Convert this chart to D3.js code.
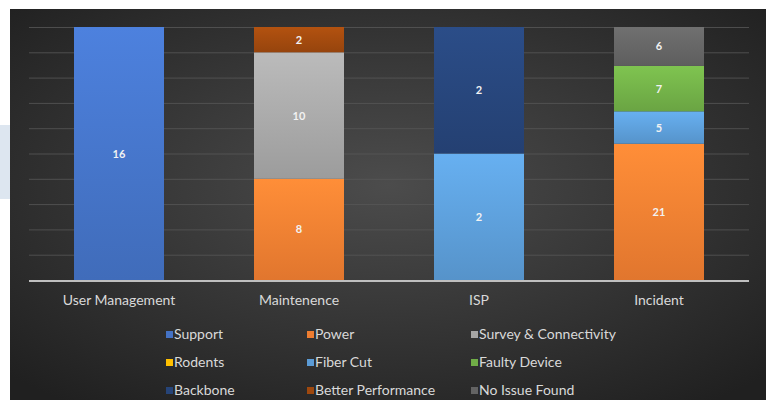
<!DOCTYPE html>
<html>
<head>
<meta charset="utf-8">
<script src="https://cdn.jsdelivr.net/npm/d3@7"></script>
<style>
  body { margin: 0; background: #ffffff; }
  svg { display: block; }
</style>
</head>
<body>
<script>
// chart size
var w = 766;
var h = 400;

// categories along the x axis
var categories = ["User Management", "Maintenence", "ISP", "Incident"];

// series names (legend order) and their values per category
var seriesNames = ["Support", "Power", "Survey & Connectivity",
                   "Rodents", "Fiber Cut", "Faulty Device",
                   "Backbone", "Better Performance", "No Issue Found"];
var support      = [16, 0, 0, 0];
var power        = [0, 8, 0, 21];
var survey       = [0, 10, 0, 0];
var rodents      = [0, 0, 0, 0];
var fiberCut     = [0, 0, 2, 5];
var faultyDevice = [0, 0, 0, 7];
var backbone     = [0, 0, 2, 0];
var betterPerf   = [0, 2, 0, 0];
var noIssue      = [0, 0, 0, 6];

// stacking order bottom -> top
var stackOrder = ["Support", "Power", "Fiber Cut", "Survey & Connectivity", "Faulty Device",
                  "Rodents", "Backbone", "Better Performance", "No Issue Found"];

var colors = {
  "Support": "#4472c4",
  "Power": "#ed7d31",
  "Survey & Connectivity": "#a5a5a5",
  "Rodents": "#ffc000",
  "Fiber Cut": "#5b9bd5",
  "Faulty Device": "#70ad47",
  "Backbone": "#264478",
  "Better Performance": "#9e480e",
  "No Issue Found": "#636363"
};

var valuesByName = {
  "Support": support, "Power": power, "Survey & Connectivity": survey,
  "Rodents": rodents, "Fiber Cut": fiberCut, "Faulty Device": faultyDevice,
  "Backbone": backbone, "Better Performance": betterPerf, "No Issue Found": noIssue
};

var table = categories.map(function(c, i) {
  var row = { category: c };
  seriesNames.forEach(function(s) { row[s] = valuesByName[s][i]; });
  return row;
});

var stacked = d3.stack()
  .keys(stackOrder)
  .offset(d3.stackOffsetExpand)(table);

var plotLeft = 29, plotRight = 749, plotTop = 27, plotBottom = 280;

var xScale = d3.scaleBand()
  .domain(categories)
  .range([plotLeft, plotRight])
  .paddingInner(0.5)
  .paddingOuter(0.25);

var yScale = d3.scaleLinear()
  .domain([0, 1])
  .range([plotBottom, plotTop]);

var svg = d3.select("body")
  .append("svg")
  .attr("width", w)
  .attr("height", h);

var defs = svg.append("defs");

var bg = defs.append("radialGradient")
  .attr("id", "bg")
  .attr("cx", "50%").attr("cy", "45%").attr("r", "70%");
bg.append("stop").attr("offset", "0%").attr("stop-color", "#4c4c4c");
bg.append("stop").attr("offset", "100%").attr("stop-color", "#202020");

stackOrder.forEach(function(s, i) {
  var g = defs.append("linearGradient")
    .attr("id", "grad" + i)
    .attr("x1", 0).attr("y1", 0).attr("x2", 0).attr("y2", 1);
  g.append("stop").attr("offset", "0%").attr("stop-color", d3.color(colors[s]).brighter(0.35));
  g.append("stop").attr("offset", "100%").attr("stop-color", d3.color(colors[s]).darker(0.15));
});

// small light box at the left edge (slide remnant)
svg.append("rect")
  .attr("x", 0).attr("y", 125)
  .attr("width", 40).attr("height", 74)
  .attr("fill", "#dde6f0");

// chart background
svg.append("rect")
  .attr("x", 10).attr("y", 9)
  .attr("width", w - 10).attr("height", h - 9)
  .attr("fill", "url(#bg)");

// gridlines
svg.append("g")
  .selectAll("line")
  .data(yScale.ticks(10))
  .enter()
  .append("line")
  .attr("x1", plotLeft)
  .attr("x2", plotRight)
  .attr("y1", function(d) { return yScale(d) + 0.5; })
  .attr("y2", function(d) { return yScale(d) + 0.5; })
  .attr("stroke", "#585858")
  .attr("stroke-opacity", 0.8)
  .attr("stroke-width", 1);

// bars
var layers = svg.append("g")
  .selectAll("g")
  .data(stacked)
  .enter()
  .append("g")
  .attr("fill", function(d, i) { return "url(#grad" + i + ")"; });

layers.selectAll("rect")
  .data(function(d) { return d; })
  .enter()
  .append("rect")
  .attr("x", function(d) { return xScale(d.data.category); })
  .attr("y", function(d) { return yScale(d[1]); })
  .attr("width", xScale.bandwidth())
  .attr("height", function(d) { return yScale(d[0]) - yScale(d[1]); });

// value labels
layers.each(function(layer) {
  d3.select(this).selectAll("text")
    .data(layer.filter(function(d) { return d.data[layer.key] > 0; }))
    .enter()
    .append("text")
    .text(function(d) { return d.data[layer.key]; })
    .attr("x", function(d) { return xScale(d.data.category) + xScale.bandwidth() / 2; })
    .attr("y", function(d) { return (yScale(d[0]) + yScale(d[1])) / 2 + 4; })
    .attr("text-anchor", "middle")
    .attr("font-family", "Lato, sans-serif")
    .attr("font-size", "11px")
    .attr("font-weight", "bold")
    .attr("fill", "#f2f2f2");
});

// axis line
svg.append("line")
  .attr("x1", plotLeft).attr("x2", plotRight)
  .attr("y1", plotBottom + 1).attr("y2", plotBottom + 1)
  .attr("stroke", "#bfbfbf")
  .attr("stroke-width", 2);

// category labels
var xAxis = svg.append("g")
  .attr("transform", "translate(0," + (plotBottom + 1) + ")")
  .call(d3.axisBottom(xScale).tickSize(0).tickPadding(14));
xAxis.select(".domain").remove();
xAxis.selectAll("text")
  .attr("font-family", "Lato, sans-serif")
  .attr("font-size", "14px")
  .attr("fill", "#d9d9d9");

// legend, 3 columns
var colX = [166, 307, 471];
var rowY = [335, 363, 391];
var legend = svg.append("g")
  .selectAll("g")
  .data(seriesNames)
  .enter()
  .append("g")
  .attr("transform", function(d, i) {
    return "translate(" + colX[i % 3] + "," + rowY[Math.floor(i / 3)] + ")";
  });

legend.append("rect")
  .attr("x", 0).attr("y", -4)
  .attr("width", 7).attr("height", 7)
  .attr("fill", function(d) { return colors[d]; });

legend.append("text")
  .text(function(d) { return d; })
  .attr("x", 8)
  .attr("y", 4)
  .attr("font-family", "Lato, sans-serif")
  .attr("font-size", "14px")
  .attr("fill", "#d9d9d9");
</script>
</body>
</html>
